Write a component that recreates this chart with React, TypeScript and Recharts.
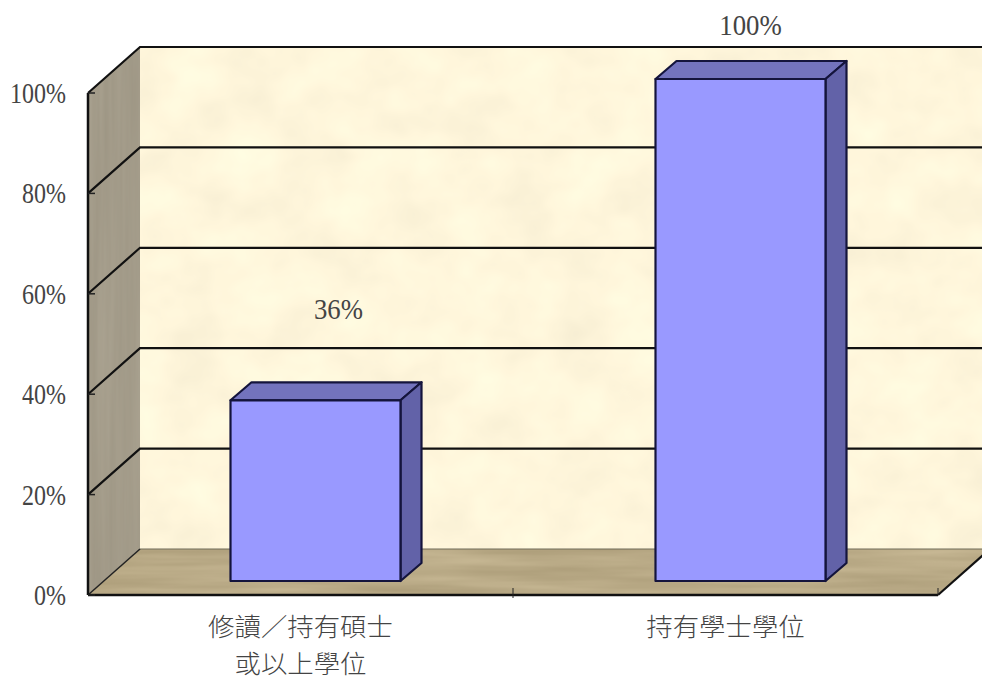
import React from "react";
import { BarChart, Bar, XAxis, YAxis, ReferenceArea, LabelList } from "recharts";

const CATEGORIES = ["修讀／持有碩士\n或以上學位", "持有學士學位"];
const SHARES = [36, 100];
const Y_TICKS = [0, 20, 40, 60, 80, 100];

const data = CATEGORIES.map((name, i) => ({ name, share: SHARES[i] }));

// depth of the 3d box the chart sits in
const WALL_DX = 52;
const WALL_DY = 46;
// bars stand a bit into the box
const BAR_SHIFT_X = 14.5;
const BAR_SHIFT_Y = 14;
const BAR_DX = 21;
const BAR_DY = 18;
const BAND = 425;
// recharts keeps custom ticks this far from the axis line
const TICK_GAP = 8;
// where the value labels float, relative to the bar top
const LABEL_NUDGE = [
  { dx: 23, dy: -74 },
  { dx: 10, dy: -37 },
];

const SERIF = "'Liberation Serif', serif";
const CJK = "'Noto Sans CJK TC', sans-serif";
const INK = "#444";

const noiseFilter = (id: string, fx: number, fy: number, rgb: number[], k: number, seed: number) => (
  <filter id={id} x="0" y="0" width="100%" height="100%" colorInterpolationFilters="sRGB">
    <feTurbulence type="fractalNoise" baseFrequency={`${fx} ${fy}`} numOctaves={3} seed={seed} result="n" />
    <feColorMatrix
      in="n"
      type="matrix"
      values={`${k} 0 0 0 ${rgb[0] - k / 2}  ${k} 0 0 0 ${rgb[1] - k / 2}  ${k} 0 0 0 ${rgb[2] - k / 2 - 0.01}  0 0 0 0 1`}
      result="c"
    />
    <feComposite in="c" in2="SourceGraphic" operator="in" />
  </filter>
);

const Box = ({ x, y, width, height }: any) => {
  const bottom = y + height;
  const right = x + width;
  const yOf = (v: number) => bottom - (height * v) / 100;
  return (
    <g>
      <defs>
        {noiseFilter("paper", 0.018, 0.022, [1.0, 0.965, 0.87], 0.07, 4)}
        {noiseFilter("floor", 0.006, 0.09, [0.725, 0.665, 0.535], 0.14, 7)}
        {noiseFilter("side", 0.12, 0.004, [0.64, 0.61, 0.55], 0.06, 2)}
      </defs>
      <rect x={x + WALL_DX} y={y - WALL_DY} width={width} height={height} fill="#fef4da" filter="url(#paper)" />
      <polygon
        points={`${x},${y} ${x + WALL_DX},${y - WALL_DY} ${x + WALL_DX},${bottom - WALL_DY} ${x},${bottom}`}
        fill="#a39c8c"
        filter="url(#side)"
      />
      <polygon
        points={`${x},${bottom} ${x + WALL_DX},${bottom - WALL_DY} ${right + WALL_DX},${bottom - WALL_DY} ${right},${bottom}`}
        fill="#b9aa88"
        filter="url(#floor)"
      />
      <line x1={x + WALL_DX} y1={bottom - WALL_DY} x2={right + WALL_DX} y2={bottom - WALL_DY} stroke="#6f6a58" strokeWidth={1} />
      {Y_TICKS.filter((v) => v > 0).map((v) => (
        <path
          key={v}
          d={`M${x},${yOf(v)} L${x + WALL_DX},${yOf(v) - WALL_DY} L${right + WALL_DX},${yOf(v) - WALL_DY}`}
          fill="none"
          stroke="#111"
          strokeWidth={2.2}
        />
      ))}
      <line x1={x} y1={bottom} x2={x + WALL_DX} y2={bottom - WALL_DY} stroke="#222" strokeWidth={1.5} />
      <line x1={right} y1={bottom} x2={right + WALL_DX} y2={bottom - WALL_DY} stroke="#111" strokeWidth={2.2} />
    </g>
  );
};

const Bar3D = ({ x, y, width, height }: any) => {
  const l = x + BAR_SHIFT_X;
  const t = y - BAR_SHIFT_Y;
  const r = l + width;
  const b = t + height;
  return (
    <g stroke="#14143c" strokeWidth={2.2} strokeLinejoin="round">
      <polygon points={`${l},${t} ${l + BAR_DX},${t - BAR_DY} ${r + BAR_DX},${t - BAR_DY} ${r},${t}`} fill="#7373bd" />
      <polygon points={`${r},${t} ${r + BAR_DX},${t - BAR_DY} ${r + BAR_DX},${b - BAR_DY} ${r},${b}`} fill="#6262a8" />
      <rect x={l} y={t} width={width} height={height} fill="#9999ff" />
    </g>
  );
};

// the original numerals are tall and narrow, so squeeze them
const ValueLabel = ({ x, y, width, value, index }: any) => {
  const n = LABEL_NUDGE[index];
  return (
    <text
      x={x + width / 2 + BAR_SHIFT_X + n.dx}
      y={y - BAR_SHIFT_Y - BAR_DY + n.dy}
      textAnchor="middle"
      dominantBaseline="central"
      fontFamily={SERIF}
      fontSize={30}
      fill={INK}
      textLength={String(value).length * 13.5 + 22}
      lengthAdjust="spacingAndGlyphs"
    >
      {`${value}%`}
    </text>
  );
};

const PercentTick = ({ x, y, payload }: any) => (
  <g>
    <line x1={x + TICK_GAP} y1={y} x2={x + TICK_GAP + 7} y2={y} stroke="#222" strokeWidth={1.5} />
    <text
      x={x + TICK_GAP - 22}
      y={y}
      textAnchor="end"
      dominantBaseline="central"
      fontFamily={SERIF}
      fontSize={29}
      fill={INK}
      textLength={String(payload.value).length * 12 + 20}
      lengthAdjust="spacingAndGlyphs"
    >
      {`${payload.value}%`}
    </text>
  </g>
);

const CategoryTick = ({ x, y, payload }: any) => (
  <g>
    <line
      x1={x + BAND / 2}
      y1={y - TICK_GAP - 7}
      x2={x + BAND / 2}
      y2={y - TICK_GAP + (payload.index === 0 ? 3 : 0)}
      stroke="#222"
      strokeWidth={1}
    />
    {String(payload.value)
      .split("\n")
      .map((line, i) => (
        <text
          key={line}
          x={x}
          y={y + 22 + i * 36.5}
          textAnchor="middle"
          dominantBaseline="central"
          fontFamily={CJK}
          fontWeight={300}
          fontSize={25}
          textLength={line.length * 26.4}
          lengthAdjust="spacingAndGlyphs"
          fill={INK}
        >
          {line}
        </text>
      ))}
  </g>
);

export default function App() {
  return (
    <div style={{ position: "absolute", left: 0, top: 0, width: 982, height: 679, background: "#fff", overflow: "hidden" }}>
      <BarChart
        width={982}
        height={679}
        data={data}
        margin={{ top: 93, right: 44, bottom: 0, left: 0 }}
        barSize={170}
      >
        <ReferenceArea y1={0} y2={100} shape={<Box />} ifOverflow="visible" />
        <XAxis
          dataKey="name"
          height={84}
          interval={0}
          axisLine={{ stroke: "#111", strokeWidth: 2.5 }}
          tickLine={false}
          tick={<CategoryTick />}
        />
        <YAxis
          width={88}
          domain={[0, 100]}
          ticks={Y_TICKS}
          axisLine={{ stroke: "#111", strokeWidth: 2.5 }}
          tickLine={false}
          tick={<PercentTick />}
        />
        <Bar dataKey="share" shape={<Bar3D />} isAnimationActive={false}>
          <LabelList dataKey="share" content={<ValueLabel />} />
        </Bar>
      </BarChart>
    </div>
  );
}
